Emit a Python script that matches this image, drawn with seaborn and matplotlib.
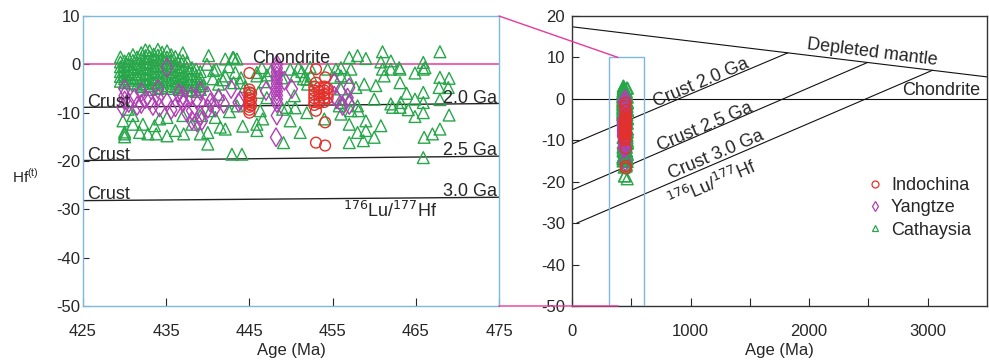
import pandas as pd
import matplotlib.pyplot as plt
import seaborn as sns
from matplotlib.patches import Rectangle, ConnectionPatch
from matplotlib.lines import Line2D

# (age in Ma, eHf(t))
cathaysia = [
    (429.5, 1.5), (429.5, 0.5), (429.5, -0.5), (429.5, -1.5), (429.5, -2.5), (429.5, -3.5),
    (430.0, 0.7), (430.0, -0.3), (430.0, -1.2), (430.0, -2.2), (430.0, -3.0), (430.0, -3.8),
    (429.8, -11.7), (430.0, -14.4), (430.0, -15.0), (430.0, -14.0),
    (430.5, 1.2), (430.5, 0.0), (430.5, -1.0), (430.5, -2.0), (430.5, -3.3), (430.4, -9.3),
    (431.0, 2.0), (431.0, 0.8), (431.0, -0.5), (431.0, -1.5), (431.0, -2.7), (431.0, -3.9),
    (431.0, -10.6), (431.0, -12.4),
    (431.5, 1.5), (431.5, 0.3), (431.5, -0.8), (431.5, -2.0), (431.5, -3.0), (431.5, -4.3),
    (432.0, 2.4), (432.0, 1.2), (432.0, 0.0), (432.0, -1.0), (432.0, -2.2), (432.0, -3.5),
    (432.0, -4.6), (432.2, -12.4), (431.8, -14.1),
    (432.5, 3.0), (432.5, 1.8), (432.5, 0.5), (432.5, -0.6), (432.5, -1.8), (432.5, -2.9), (432.5, -4.0),
    (433.0, 2.8), (433.0, 1.6), (433.0, 0.3), (433.0, -0.9), (433.0, -2.0), (433.0, -3.2),
    (433.0, -4.4), (433.0, -5.2), (432.8, -14.4),
    (433.5, 2.1), (433.5, 1.0), (433.5, -0.2), (433.5, -1.4), (433.5, -2.6), (433.5, -3.8), (433.6, -12.7),
    (434.0, 3.1), (434.0, 1.9), (434.0, 0.7), (434.0, -0.5), (434.0, -1.7), (434.0, -2.9),
    (434.0, -4.1), (434.0, -5.0), (433.8, -14.4), (434.2, -11.3),
    (434.5, 2.5), (434.5, 1.3), (434.5, 0.0), (434.5, -1.2), (434.5, -2.4), (434.5, -3.6), (434.5, -4.8),
    (435.1, 2.8), (435.1, 1.5), (435.1, 0.4), (435.1, -0.8), (435.1, -2.0), (435.1, -3.2),
    (435.1, -4.4), (435.1, -11.0), (435.1, -14.8),
    (435.6, 2.0), (435.6, 0.9), (435.6, -0.3), (435.6, -1.5), (435.6, -2.7), (435.6, -3.9), (435.6, -5.0),
    (436.1, 1.6), (436.1, 0.2), (436.1, -1.0), (436.1, -2.2), (436.1, -3.4), (436.1, -4.6), (436.1, -13.7),
    (436.6, 1.0), (436.6, -0.5), (436.6, -1.7), (436.6, -2.9), (436.6, -4.1), (436.6, -5.2),
    (437.0, 2.4), (437.0, 0.8), (437.0, -1.3), (437.0, -2.5), (437.0, -3.6), (437.0, -4.8),
    (437.0, -10.6), (437.1, -14.4),
    (437.5, 0.5), (437.5, -0.8), (437.5, -2.0), (437.5, -3.2), (437.5, -4.4), (437.5, -5.4),
    (438.1, -0.7), (438.1, -1.9), (438.1, -3.0), (438.1, -4.2), (438.1, -5.3), (438.1, -12.4),
    (438.6, -1.0), (438.6, -2.3), (438.6, -3.5), (438.6, -4.6), (438.6, -5.6),
    (439.1, -1.5), (439.1, -2.8), (439.1, -4.0), (439.1, -5.2), (439.1, -10.6), (439.1, -14.4),
    (439.9, 0.0), (439.4, -4.4), (440.0, -14.1), (440.0, -16.5), (440.1, 1.8), (440.7, -1.3),
    (441.3, -4.1), (441.3, -6.2), (440.9, -11.0), (440.3, -9.6), (441.5, -13.0),
    (442.1, 1.1), (442.1, -2.4), (442.1, -13.4), (443.1, 1.4), (443.1, -3.8), (443.3, -1.7),
    (443.5, -8.6), (443.5, 1.1), (442.9, -18.6), (444.1, -18.6), (443.0, 1.4),
    (441.0, -1.0), (441.8, -3.2), (442.5, -0.5), (444.0, -2.8), (444.5, -4.6), (446.8, -3.6),
    (447.6, -1.3), (448.9, -2.8), (450.4, -6.5), (451.3, -1.5), (452.3, -0.6), (450.5, -9.0),
    (449.0, -9.3), (446.6, -11.3), (444.2, -12.8), (442.6, -9.8), (440.6, -3.0),
    (445.9, -1.7), (445.9, -2.4), (445.9, -12.4), (445.9, -13.7), (447.1, -2.2), (447.1, -6.9),
    (446.5, -0.7), (449.9, -1.0), (449.9, -11.7), (450.9, -0.7), (451.9, -3.1), (451.9, -10.0),
    (452.0, -4.1), (443.9, -3.8), (446.1, -5.8), (449.5, -8.9), (446.3, -9.6), (451.1, -14.1),
    (449.1, -16.2), (451.5, -3.0), (452.4, -2.4), (450.5, -2.4),
    (454.4, -1.0), (455.4, -1.0), (456.0, -0.7), (457.2, -1.0), (456.0, -2.4), (455.2, -2.7),
    (456.8, -2.7), (457.0, 1.4), (458.0, 1.8), (459.0, 1.2), (461.0, 2.6), (460.8, 0.5),
    (462.0, 0.7), (463.0, -0.7), (461.0, -1.0), (462.0, -1.0), (461.2, -2.4), (458.8, -4.1),
    (460.2, -4.4), (457.8, -4.8), (456.0, -5.1), (460.0, -7.2), (457.0, -7.2), (455.8, -8.6),
    (458.0, -8.6), (462.0, -8.2), (462.2, -8.9), (463.2, -7.9), (457.2, -9.6), (456.0, -10.3),
    (458.1, -9.6), (457.0, -12.4), (459.0, -11.7), (460.8, -12.7), (458.0, -14.1), (459.0, -13.7),
    (458.7, -15.8), (460.0, -15.1), (457.0, -16.2), (454.0, -11.3), (456.0, -7.9),
    (467.9, 2.6), (465.9, 0.4), (466.1, -0.7), (464.9, -1.8), (465.9, -1.0), (463.1, -1.0),
    (463.1, -3.8), (467.9, -2.7), (469.0, -2.9), (468.9, -4.8), (467.8, -4.8), (463.9, -6.0),
    (465.9, -5.8), (464.9, -7.2), (465.9, -7.9), (467.9, -7.3), (464.1, -9.4), (463.1, -8.9),
    (465.9, -10.0), (464.9, -10.8), (469.0, -10.5), (467.9, -13.4), (467.0, -14.4),
    (466.0, -15.1), (465.9, -19.3),
]

yangtze = [
    (430.0, -5.1), (430.0, -7.5), (430.0, -6.5), (429.8, -9.0), (430.5, -8.0), (431.2, -6.9),
    (431.5, -8.6), (432.0, -8.2), (432.0, -5.8), (432.5, -7.2), (433.0, -7.5), (433.4, -8.6),
    (434.0, -5.1), (434.0, -6.9), (434.2, -8.9), (435.1, -0.7), (435.1, -7.8), (435.6, -9.4),
    (436.1, -8.9), (436.5, -6.0), (437.0, -6.5), (437.0, -8.0), (437.5, -10.0), (438.1, -9.6),
    (438.1, -11.6), (438.7, -7.2), (438.7, -12.0), (439.1, -5.5), (439.1, -10.6), (439.3, -11.7),
    (440.0, -6.5), (440.0, -9.2), (440.3, -7.9), (440.9, -8.9), (441.3, -7.2), (441.9, -8.2),
    (442.8, -5.1), (443.7, -7.9), (443.9, -7.5), (436.8, -7.3), (438.0, -6.6),
    (448.3, 0.0), (448.3, -0.8), (448.3, -1.6), (448.3, -2.4), (448.3, -3.2), (448.3, -4.0),
    (448.3, -4.8), (448.3, -5.6), (448.3, -6.4), (448.3, -7.2), (448.3, -8.0), (448.3, -10.6),
    (448.2, -15.1), (447.0, -5.5), (449.2, -3.4), (450.1, -5.1),
    (455.2, -3.8), (455.2, -6.5), (456.8, -6.9), (456.2, -8.6), (457.0, -8.4), (457.0, -4.8),
    (455.5, -7.2),
]

indochina = [
    (445.0, -1.8), (445.0, -5.2), (445.0, -5.8), (445.0, -6.4), (445.0, -7.0), (445.0, -7.6),
    (445.0, -8.2), (445.0, -8.8), (445.0, -9.4), (445.0, -10.0), (445.2, -6.0), (445.2, -7.3),
    (445.2, -8.5),
    (453.0, -1.0), (453.0, -3.8), (453.0, -9.6), (453.0, -16.2), (454.1, -2.7), (454.1, -12.0),
    (454.1, -16.8),
    (452.8, -4.6), (452.8, -5.4), (452.8, -6.2), (452.8, -7.0), (452.8, -7.8), (452.8, -8.4),
    (453.4, -4.8), (453.4, -5.6), (453.4, -6.4), (453.4, -7.2), (453.4, -8.0),
    (454.0, -4.6), (454.0, -5.4), (454.0, -6.2), (454.0, -7.0), (454.0, -7.8),
    (454.4, -5.0), (454.4, -6.0), (454.4, -7.0),
]

groups = ["Indochina", "Yangtze", "Cathaysia"]
colors = {"Indochina": "#e2312a", "Yangtze": "#b13fb5", "Cathaysia": "#27a74a"}
markers = {"Indochina": "o", "Yangtze": "d", "Cathaysia": "^"}
sizes = {"Indochina": 60, "Yangtze": 90, "Cathaysia": 72}

# reference curves, left panel (age range 425-475 Ma)
crust_left = {"2.0 Ga": [-8.9, -8.1], "2.5 Ga": [-19.9, -19.0], "3.0 Ga": [-28.2, -27.5]}
left_ages = [425, 475]

# reference curves, right panel (0-3500 Ma)
dm_age, dm_ehf = [0, 3500], [17.4, 5.3]
crust_right = {
    "2.0 Ga": ([0, 1820], [-10.9, 11.1]),
    "2.5 Ga": ([0, 2494], [-22.0, 8.8]),
    "3.0 Ga": ([40, 3040], [-30.0, 6.9]),
}

df = pd.concat([
    pd.DataFrame(indochina, columns=["age", "ehf"]).assign(group="Indochina"),
    pd.DataFrame(yangtze, columns=["age", "ehf"]).assign(group="Yangtze"),
    pd.DataFrame(cathaysia, columns=["age", "ehf"]).assign(group="Cathaysia"),
])

sns.set_style("ticks")
plt.rcParams["font.family"] = ["Liberation Sans", "DejaVu Sans"]
plt.rcParams["axes.unicode_minus"] = False

fig = plt.figure(figsize=(9.89, 3.6), dpi=100)
ax1 = fig.add_axes([83 / 989, 54 / 360, 416 / 989, 290 / 360])
ax2 = fig.add_axes([572 / 989, 54 / 360, 415 / 989, 290 / 360])

pink = "#e8399a"
blue = "#7db8df"


def draw_points(ax):
    for g in ["Cathaysia", "Yangtze", "Indochina"]:
        sub = df[df.group == g]
        sns.scatterplot(data=sub, x="age", y="ehf", ax=ax, marker=markers[g],
                        color=colors[g], facecolor="none", edgecolor=colors[g],
                        s=sizes[g], linewidth=1.0, legend=False, zorder=3)


# ---- left panel
draw_points(ax1)
ax1.axhline(0, color=pink, lw=1.1, zorder=1)
for label, vals in crust_left.items():
    ax1.plot(left_ages, vals, color="#222222", lw=1.0, zorder=1)
ax1.text(425.5, -8.8, "Crust", fontsize=13, va="baseline")
ax1.text(425.5, -19.7, "Crust", fontsize=13, va="baseline")
ax1.text(425.5, -27.8, "Crust", fontsize=13, va="baseline")
ax1.text(474.8, -8.0, "2.0 Ga", fontsize=13, va="baseline", ha="right")
ax1.text(474.8, -18.7, "2.5 Ga", fontsize=13, va="baseline", ha="right")
ax1.text(474.8, -27.2, "3.0 Ga", fontsize=13, va="baseline", ha="right")
ax1.text(450.0, 1.3, "Chondrite", fontsize=13, ha="center", va="center")
ax1.text(461.9, -30.3, r"$^{176}$Lu/$^{177}$Hf", fontsize=13, ha="center", va="center")

ax1.set_xlim(425, 475)
ax1.set_ylim(-50, 10)
ax1.set_xticks(range(425, 476, 10))
ax1.set_yticks(range(-50, 11, 10))
ax1.tick_params(axis="x", direction="in", length=6, width=0.8, pad=13, labelsize=12)
ax1.tick_params(axis="y", direction="in", length=4.5, width=0.8, pad=2, labelsize=12)
for sp in ax1.spines.values():
    sp.set_visible(True)
    sp.set_color(blue)
    sp.set_linewidth(1.0)
ax1.set_xlabel("Age (Ma)", fontsize=12, labelpad=3)
ax1.set_ylabel("")

# ---- right panel
draw_points(ax2)
ax2.plot(dm_age, dm_ehf, color="#111111", lw=0.8)
ax2.axhline(0, color="#111111", lw=0.8)
for label, (xs, ys) in crust_right.items():
    ax2.plot(xs, ys, color="#111111", lw=0.8)
ax2.add_patch(Rectangle((312, -50), 295, 60, fill=False, ec=blue, lw=1.0, zorder=4))

ax2.text(2536, 11.1, "Depleted mantle", fontsize=13, ha="center", va="center",
         rotation=-7, rotation_mode="anchor")
ax2.text(3117, 2.1, "Chondrite", fontsize=13, ha="center", va="center")
ax2.text(1087, 3.8, "Crust 2.0 Ga", fontsize=13, ha="center", va="center",
         rotation=23, rotation_mode="anchor")
ax2.text(1120, -6.8, "Crust 2.5 Ga", fontsize=13, ha="center", va="center",
         rotation=23, rotation_mode="anchor")
ax2.text(1213, -13.5, "Crust 3.0 Ga", fontsize=13, ha="center", va="center",
         rotation=23, rotation_mode="anchor")
ax2.text(1180, -20.6, r"$^{176}$Lu/$^{177}$Hf", fontsize=13, ha="center", va="center",
         rotation=23, rotation_mode="anchor")

ax2.set_xlim(0, 3500)
ax2.set_ylim(-50, 20)
ax2.set_xticks(range(0, 3001, 500))
ax2.set_xticklabels(["0", "", "1000", "", "2000", "", "3000"])
ax2.set_yticks(range(-50, 21, 10))
ax2.tick_params(axis="x", direction="in", length=5.5, width=0.8, pad=13, labelsize=12)
ax2.tick_params(axis="y", direction="in", length=5, width=0.8, pad=5, labelsize=12)
for sp in ax2.spines.values():
    sp.set_visible(True)
    sp.set_color("#333333")
    sp.set_linewidth(1.0)
ax2.set_xlabel("Age (Ma)", fontsize=12, labelpad=3)
ax2.set_ylabel("")

handles = [Line2D([], [], ls="none", marker=markers[g], mfc="none", mec=colors[g],
                  ms=5, mew=0.9) for g in groups]
ax2.legend(handles, groups, loc="upper left", bbox_to_anchor=(0.708, 0.445), frameon=False,
           fontsize=13, handlelength=1, handletextpad=0.4, labelspacing=0.3,
           borderaxespad=0, borderpad=0)

# connectors between panels
for y in (10, -50):
    con = ConnectionPatch(xyA=(475, y), coordsA=ax1.transData, xyB=(388, y),
                          coordsB=ax2.transData, color=pink, lw=1.0)
    fig.add_artist(con)

fig.text(12 / 989, 1 - 183 / 360, r"Hf$^{\mathregular{(t)}}$", fontsize=11, va="baseline")

plt.savefig("out.png", dpi=100)
